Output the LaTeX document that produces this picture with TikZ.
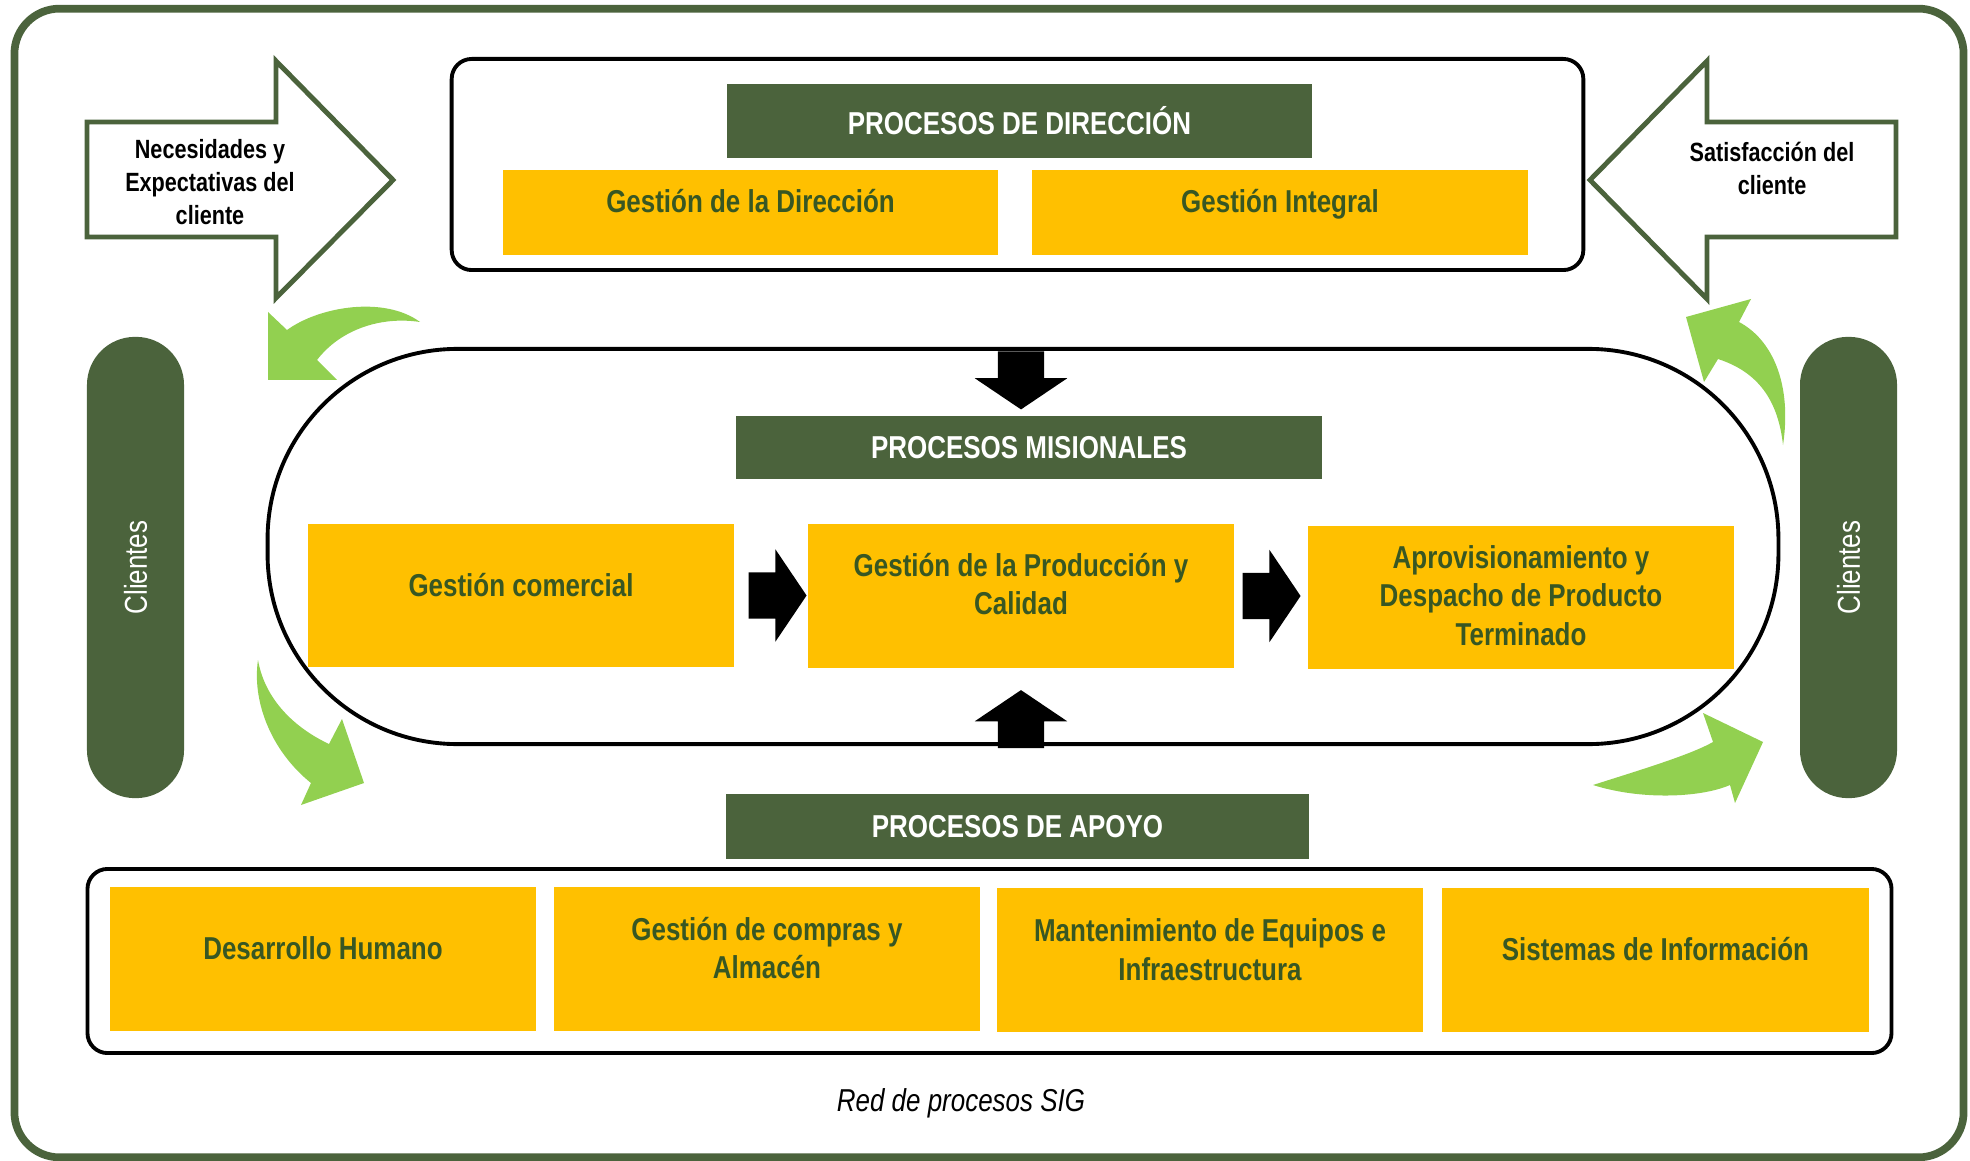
\documentclass[tikz,border=0pt]{standalone}
\usepackage{fontspec}
\setmainfont{Liberation Sans}[FakeStretch=0.82]
\usepackage{tikz}
\usetikzlibrary{positioning}
\usetikzlibrary{shapes.arrows}
\usetikzlibrary{calc}
\definecolor{darkolive}{RGB}{75,99,60}
\definecolor{boxgold}{RGB}{255,192,0}
\definecolor{boxtextgreen}{RGB}{56,87,35}
\definecolor{leafgreen}{RGB}{146,208,80}
\tikzstyle{headerbox}=[rectangle,fill=darkolive,text=white,font=\fontsize{9}{11}\selectfont\bfseries,inner sep=0pt]
\tikzstyle{processbox}=[rectangle,fill=boxgold,inner sep=0pt,minimum width=4.26cm,minimum height=1.43cm]
\tikzstyle{processtext}=[text=boxtextgreen,font=\fontsize{9}{11}\selectfont\bfseries,align=center]
\tikzstyle{groupframe}=[draw=black,line width=1.1pt,rounded corners=0.2cm,inner sep=0pt]
\tikzstyle{clientpill}=[rectangle,fill=darkolive,text=white,rounded corners=0.48cm,minimum width=4.61cm,minimum height=0.97cm,font=\fontsize{9}{11}\selectfont,rotate=90]
\tikzstyle{flowarrow}=[single arrow,fill=black,inner xsep=0pt,inner ysep=0.225cm,minimum height=0.58cm,minimum width=0.91cm,single arrow head extend=0.23cm,single arrow tip angle=112]
\tikzstyle{vflowarrow}=[flowarrow,inner xsep=0.225cm,inner ysep=0pt]
\tikzstyle{bigarrow}=[draw=darkolive,line width=1.4pt,fill=white,line join=miter]
\tikzstyle{arrowtext}=[font=\fontsize{7.5}{9.4}\selectfont\bfseries,align=center]
\tikzstyle{curvedarrow}=[fill=leafgreen]

\begin{document}
\begin{tikzpicture}[x=0.01cm,y=-0.01cm]
    \useasboundingbox (0,0) rectangle (1970,1161);
    % outer frame
    \node[draw=darkolive,line width=2.2pt,rounded corners=0.45cm,minimum width=19.48cm,minimum height=11.48cm,inner sep=0pt] (frame) at (989,583) {};

    % group frames
    \node[groupframe,minimum width=11.31cm,minimum height=2.11cm] (dirframe) at (1017.5,164.5) {};
    \node[groupframe,rounded corners=1.9cm,minimum width=15.1cm,minimum height=3.95cm] (misframe) at (1023,546.5) {};
    \node[groupframe,minimum width=18.03cm,minimum height=1.84cm] (apoframe) at (989.5,961) {};

    % headers
    \foreach \pos/\name/\label/\boxw/\boxh in {{(1019.5,121)/hdir/PROCESOS DE DIRECCIÓN/5.85cm/0.74cm},
        {(1029,447.5)/hmis/PROCESOS MISIONALES/5.86cm/0.63cm},
        {(1017.5,826.5)/hapo/PROCESOS DE APOYO/5.83cm/0.65cm}}
        \node[headerbox,minimum width=\boxw,minimum height=\boxh] (\name) at \pos {\label};

    % process boxes
    \foreach \pos/\name in {{(750.5,212.5)/dir1}, {(1280,212.5)/dir2}}
        \node[processbox,minimum width=4.95cm,minimum height=0.85cm] (\name) at \pos {};
    \foreach \pos/\name in {{(521,595.5)/mis1}, {(1021,596)/mis2}, {(1521,597.5)/mis3},
        {(323,959)/apo1}, {(767,959)/apo2}, {(1210,960)/apo3}, {(1655.5,960)/apo4}}
        \node[processbox] (\name) at \pos {};

    % process labels
    \foreach \name/\shift/\label in {dir1/-11/{Gestión de la Dirección}, dir2/-8/{Gestión Integral},
        mis1/-10/{Gestión comercial}, mis2/-12/{Gestión de la Producción y\\Calidad},
        mis3/-2/{Aprovisionamiento y\\Despacho de Producto\\Terminado},
        apo1/-11/{Desarrollo Humano}, apo2/-11/{Gestión de compras y\\Almacén},
        apo3/-10/{Mantenimiento de Equipos e\\Infraestructura}, apo4/-11/{Sistemas de Información}}
        \node[processtext] (\name-text) at ($(\name.center)+(0,\shift)$) {\label};

    % black flow arrows
    \node[flowarrow,anchor=tail] (flow1) at ($(mis1.east)+(13,0)$) {};
    \node[flowarrow,anchor=tail] (flow2) at ($(mis2.east)+(7,0)$) {};
    \node[vflowarrow,shape border rotate=270,anchor=tip] (flowdown) at ($(mis2.north |- hmis.north)+(0,-5)$) {};
    \node[vflowarrow,shape border rotate=90,anchor=tip] (flowup) at ($(mis2.south)+(0,21)$) {};

    % clientes
    \node[clientpill] (clientL) at (135.5,567.5) {Clientes};
    \node[clientpill] (clientR) at (1848.5,567.5) {Clientes};

    % input / output arrows
    \draw[bigarrow] (87,122) -- (276,122) -- (276,61) -- (393,180) -- (276,298) -- (276,237) -- (87,237) -- cycle;
    \node[arrowtext] (needs) at (210,182) {Necesidades y\\Expectativas del\\cliente};
    \draw[bigarrow] (1896,122) -- (1707,122) -- (1707,61) -- (1590,180) -- (1707,299) -- (1707,237) -- (1896,237) -- cycle;
    \node[arrowtext] (satisf) at (1772,168) {Satisfacción del\\cliente};

    % green curved arrows
    \fill[curvedarrow] (268,380) -- (268,312) -- (287,330) .. controls (320,306) and (385,296) .. (420,322)
        .. controls (380,316) and (340,330) .. (317,360) -- (337,380) -- cycle;
    \fill[curvedarrow] (1686,317) -- (1751,299) -- (1739,322) .. controls (1773,340) and (1792,385) .. (1783,445)
        .. controls (1778,400) and (1758,372) .. (1718,359) -- (1704,382) -- cycle;
    \fill[curvedarrow] (258,660) .. controls (252,700) and (270,750) .. (311,783) -- (301,805) -- (364,783)
        -- (342,719) -- (329,744) .. controls (295,728) and (265,700) .. (258,660) -- cycle;
    \fill[curvedarrow] (1593,785) .. controls (1640,770) and (1690,755) .. (1713,742) -- (1703,713) -- (1763,742)
        -- (1735,803) -- (1730,785) .. controls (1700,798) and (1640,800) .. (1593,785) -- cycle;

    % caption
    \node[font=\fontsize{9}{11}\selectfont\itshape] (caption) at (961,1103) {Red de procesos SIG};
\end{tikzpicture}
\end{document}
